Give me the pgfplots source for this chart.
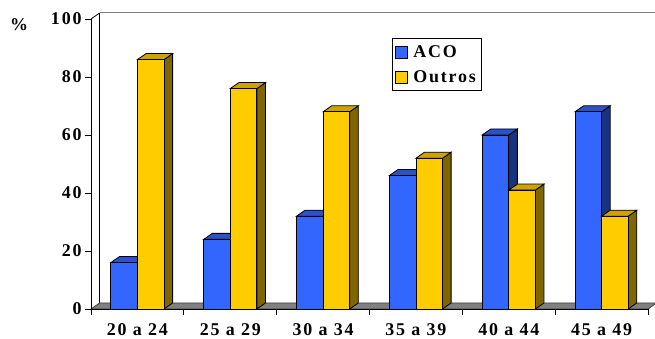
\documentclass[border=0pt]{standalone}
\usepackage{fontspec}
\setmainfont{Liberation Serif}[LetterSpace=10]
\usepackage{pgfplots}
\pgfplotsset{compat=1.18}

\definecolor{acofront}{RGB}{51,102,255}
\definecolor{acotop}{RGB}{41,82,204}
\definecolor{acoside}{RGB}{26,51,128}
\definecolor{outfront}{RGB}{255,204,0}
\definecolor{outtop}{RGB}{204,163,0}
\definecolor{outside}{RGB}{128,102,0}
\definecolor{floorgray}{RGB}{128,128,128}

\newcommand{\lblfont}{\bfseries\fontsize{18}{20}\selectfont}

% 3D bar drawn at each data point (origin = top-front of the bar)
% #1 = left offset of front face, #2 front, #3 top, #4 side
\newcommand{\barmark}[4]{%
 \pgfsetlinewidth{0.8bp}\pgfsetstrokecolor{black}%
 \pgfpathmoveto{\pgfpoint{#1bp+26.6bp}{0bp}}%
 \pgfpathlineto{\pgfpoint{#1bp+35.2bp}{6bp}}%
 \pgfpathlineto{\pgfpoint{#1bp+35.2bp}{6bp-\hh bp}}%
 \pgfpathlineto{\pgfpoint{#1bp+26.6bp}{-\hh bp}}%
 \pgfpathclose
 \pgfsetfillcolor{#4}\pgfusepath{fill,stroke}%
 \pgfpathmoveto{\pgfpoint{#1bp}{0bp}}%
 \pgfpathlineto{\pgfpoint{#1bp+8.6bp}{6bp}}%
 \pgfpathlineto{\pgfpoint{#1bp+35.2bp}{6bp}}%
 \pgfpathlineto{\pgfpoint{#1bp+26.6bp}{0bp}}%
 \pgfpathclose
 \pgfsetfillcolor{#3}\pgfusepath{fill,stroke}%
 \pgfpathrectangle{\pgfpoint{#1bp}{-\hh bp}}{\pgfpoint{26.6bp}{\hh bp}}%
 \pgfsetfillcolor{#2}\pgfusepath{fill,stroke}%
}
\pgfdeclareplotmark{acobar}{\barmark{-26.6}{acofront}{acotop}{acoside}}
\pgfdeclareplotmark{outbar}{\barmark{0}{outfront}{outtop}{outside}}

\begin{document}
\begin{tikzpicture}
\path[use as bounding box] (-91bp,-30bp) rectangle (564bp,309bp);
% walls and floor
\draw[floorgray, line width=1bp] (8.6bp,296bp) -- (600bp,296bp);
\draw[black, line width=0.8bp] (8.6bp,6bp) -- (8.6bp,296bp);
\draw[black, line width=0.8bp] (0bp,290bp) -- (8.6bp,296bp);
\filldraw[fill=floorgray, draw=black!75, line width=0.8bp] (0bp,0bp) -- (557bp,0bp) -- (565.6bp,6bp) -- (8.6bp,6bp) -- cycle;

\begin{axis}[
 at={(0bp,0bp)}, anchor=south west,
 scale only axis, width=557bp, height=290bp,
 xmin=0, xmax=6, ymin=0, ymax=100,
 axis lines*=left,
 axis line style={line width=0.8bp, black, -},
 ytick={0,20,...,100},
 xtick={0,...,6},
 x tick label as interval,
 xticklabels={20 a 24,25 a 29,30 a 34,35 a 39,40 a 44,45 a 49},
 xticklabel style={yshift=-5bp},
 tick align=outside,
 major tick length=6bp,
 tick style={black, line width=0.8bp},
 ticklabel style={font=\lblfont},
 /pgf/number format/assume math mode=true,
 clip=false,
 legend cell align=left,
 legend style={at={(0.540,0.933)}, anchor=north west, draw=black,
   line width=0.8bp, font=\lblfont, row sep=8bp,
   inner xsep=3bp, inner ysep=4.5bp,
   /tikz/every odd column/.append style={column sep=4bp}},
]
\addplot[only marks, mark=acobar, visualization depends on={2.9*rawy \as \hh},
  legend image code/.code={\filldraw[fill=acofront,draw=black,line width=0.8bp] (0bp,-6bp) rectangle (11.5bp,6bp);}]
  coordinates {(0.5,16) (1.5,24) (2.5,32) (3.5,46) (4.5,60) (5.5,68)};
\addlegendentry{ACO}
\addplot[only marks, mark=outbar, visualization depends on={2.9*rawy \as \hh},
  legend image code/.code={\filldraw[fill=outfront,draw=black,line width=0.8bp] (0bp,-6bp) rectangle (11.5bp,6bp);}]
  coordinates {(0.5,86) (1.5,76) (2.5,68) (3.5,52) (4.5,41) (5.5,32)};
\addlegendentry{Outros}
\end{axis}
\node[font=\lblfont] at (-72bp,284bp) {\%};
\end{tikzpicture}
\end{document}
